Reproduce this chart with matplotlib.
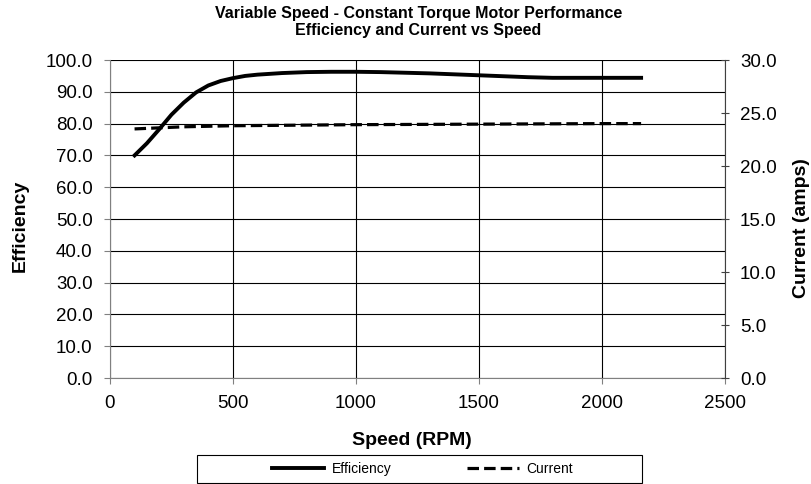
import matplotlib.pyplot as plt
from matplotlib.patches import Rectangle

plt.rcParams['font.family'] = ['Liberation Sans', 'DejaVu Sans']

# efficiency vs speed
speed_eff = [100, 150, 200, 250, 300, 350, 400, 450, 500, 550, 600, 700, 800, 900, 1000,
             1100, 1200, 1300, 1400, 1500, 1600, 1700, 1800, 1900, 2000, 2160]
efficiency = [70.0, 73.8, 78.2, 82.8, 86.6, 89.8, 92.0, 93.4, 94.3, 95.0, 95.4, 95.9, 96.2, 96.3, 96.3,
              96.2, 96.0, 95.8, 95.5, 95.2, 94.9, 94.6, 94.4, 94.4, 94.4, 94.4]

# current vs speed (right axis, amps)
speed_cur = [100, 300, 500, 1000, 1500, 2000, 2160]
current = [23.5, 23.7, 23.8, 23.9, 23.95, 24.0, 24.0]

fig = plt.figure(figsize=(8.11, 4.84), dpi=100)
ax = fig.add_axes([0.1356, 0.219, 0.758, 0.657])
ax2 = ax.twinx()

l1, = ax.plot(speed_eff, efficiency, color='black', lw=2.8, label='Efficiency')
l2, = ax2.plot(speed_cur, current, color='black', lw=2.3, ls=(0, (3.6, 1.6)), label='Current')

ax.set_xlim(0, 2500)
ax.set_ylim(0, 100)
ax2.set_ylim(0, 30)
ax.set_xticks(range(0, 2501, 500))
ax.set_yticks(range(0, 101, 10))
ax.set_yticklabels([f'{v:.1f}' for v in range(0, 101, 10)])
ax2.set_yticks(range(0, 31, 5))
ax2.set_yticklabels([f'{v:.1f}' for v in range(0, 31, 5)])

ax.grid(True, color='black', lw=0.8)
ax.set_axisbelow(True)
for s in ['top', 'right']:
    ax.spines[s].set_visible(False)
for s in ['top', 'left', 'bottom']:
    ax2.spines[s].set_visible(False)
ax.spines['left'].set_color('#808080')
ax.spines['bottom'].set_color('#808080')
ax2.spines['right'].set_color('#404040')

ax.tick_params(axis='both', labelsize=13.5, length=4.5, pad=8, color='#808080')
ax2.tick_params(axis='y', labelsize=13.5, direction='inout', length=6, pad=8, color='#404040')

ax.set_xlabel('Speed (RPM)', fontsize=14, fontweight='bold')
ax.xaxis.set_label_coords(0.491, -0.198)
ax.xaxis.label.set_va('center')
ax.set_ylabel('Efficiency', fontsize=14, fontweight='bold')
ax.yaxis.set_label_coords(-0.146, 0.48)
ax.yaxis.label.set_va('center')
ax2.set_ylabel('Current (amps)', fontsize=14, fontweight='bold')
ax2.yaxis.set_label_coords(1.125, 0.47)
ax2.yaxis.label.set_va('center')

fig.suptitle('Variable Speed - Constant Torque Motor Performance\nEfficiency and Current vs Speed',
             fontsize=11.5, fontweight='bold', y=0.988, x=0.516, linespacing=1.2)

# legend box below the plot
fig.patches.append(Rectangle((0.243, 0.002), 0.549, 0.058, transform=fig.transFigure,
                             facecolor='white', edgecolor='black', lw=0.8))
fig.legend(handles=[l1, l2], loc='center', ncol=2, fontsize=10,
           bbox_to_anchor=(0.521, 0.031), frameon=False,
           handlelength=3.75, handletextpad=0.55, columnspacing=5.4, borderaxespad=0)

fig.savefig('out.png', dpi=100)
